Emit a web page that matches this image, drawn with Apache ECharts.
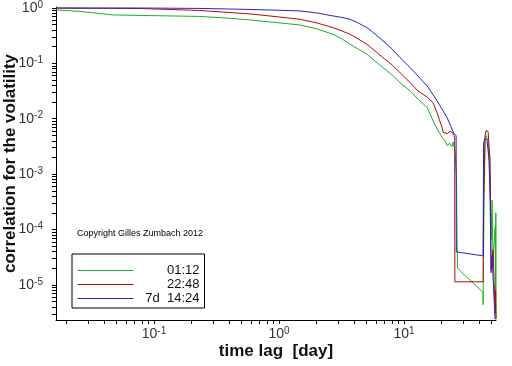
<!DOCTYPE html>
<html>
<head>
<meta charset="utf-8">
<script src="https://cdn.jsdelivr.net/npm/echarts@6/dist/echarts.min.js"></script>
<style>
html, body { margin: 0; padding: 0; background: #fff; }
#chart { width: 512px; height: 366px; }
</style>
</head>
<body>
<div id="chart"></div>
<script>
const seriesNames = ['01:12', '22:48', '7d  14:24']
const seriesColors = ['#1fb01f', '#b00a0a', '#2626c0']

// time lag [day] / correlation, one pair of arrays per series
const lagGreen = [0.0164, 0.0256, 0.047, 0.0773, 0.139, 0.233, 0.37, 0.586, 0.929, 1.47, 2.01, 2.70, 3.19, 3.70, 4.29, 5.05, 5.86, 6.79, 8.02, 9.29, 11.2, 12.9, 15.3, 17.1, 18.8,
  20.2, 21.3, 22.1, 23.3, 24.2, 24.7, 25.6, 26.3, 26.5, 26.8, 42.9, 42.9, 43.7, 44.5, 45.3, 47.0, 48.8, 49.7, 50.6, 51.5, 53.5, 54.0, 54.2, 54.4]
const corrGreen = [0.92, 0.865, 0.748, 0.732, 0.717, 0.702, 0.660, 0.608, 0.547, 0.493, 0.418, 0.335, 0.276, 0.221, 0.182, 0.146, 0.110, 0.0838, 0.0619, 0.0447, 0.0318, 0.0228, 0.0160, 0.0091, 0.0060,
  0.0046, 0.0040, 0.0033, 0.0036, 0.0031, 0.0038, 0.0027, 0.00078, 0.000097, 0.000020, 0.0000073, 0.0000044, 0.00034, 0.0040, 0.0050, 0.0040, 0.00078, 0.000066, 0.00034, 0.000028, 0.00011, 0.0000055, 0.0002, 0.0000025]

const lagRed = [0.0164, 0.0745, 0.233, 0.586, 0.929, 1.47, 2.01, 2.70, 3.19, 3.70, 4.29, 5.05, 5.86, 6.79, 8.02, 9.29, 11.2, 12.9, 15.3, 17.1, 18.4, 20.2, 20.5, 22.1, 23.3, 24.2, 25.1, 25.4, 25.5,
  42.9, 43.3, 44.5, 45.3, 47.0, 48.8, 49.7, 51.5, 52.5, 53.5, 54.0, 54.4]
const corrRed = [0.99, 0.98, 0.90, 0.78, 0.70, 0.625, 0.536, 0.441, 0.384, 0.335, 0.276, 0.221, 0.168, 0.127, 0.0938, 0.0679, 0.0447, 0.0318, 0.0247, 0.0193, 0.0127, 0.0068, 0.0057, 0.0054, 0.0059, 0.0057, 0.0050, 0.0045, 0.0000114,
  0.0000114, 0.00034, 0.0050, 0.0061, 0.0059, 0.00177, 0.0000166, 0.000043, 0.000012, 0.0000031, 0.000008, 0.0000024]

const lagBlue = [0.0164, 0.0929, 0.233, 0.586, 0.929, 1.47, 2.01, 2.70, 3.19, 3.70, 4.29, 5.05, 5.86, 6.79, 8.02, 9.29, 11.2, 12.9, 15.3, 16.7, 18.4, 20.1, 22.1, 24.2, 25.1, 26.1, 26.2,
  42.9, 43.3, 44.5, 46.1, 47.9, 48.8, 49.7, 50.6, 52.5, 53.5]
const corrBlue = [1.0, 0.995, 0.98, 0.94, 0.913, 0.883, 0.812, 0.717, 0.674, 0.625, 0.536, 0.441, 0.339, 0.254, 0.182, 0.127, 0.0838, 0.0593, 0.0391, 0.0292, 0.0210, 0.0150, 0.0105, 0.0065, 0.0054, 0.0050, 0.0000395,
  0.0000335, 0.00375, 0.0045, 0.0041, 0.00177, 0.00034, 0.0000188, 0.000035, 0.0000055, 0.0000024]

const xLabelValues = [0.1, 1, 10]
const yLabelValues = [1e-5, 1e-4, 1e-3, 1e-2, 1e-1, 1]
const copyrightText = 'Copyright Gilles Zumbach 2012'

const font = 'Liberation Sans, Arial, sans-serif'

// minor ticks at 1..9 x each decade inside [lo, hi]
const logTicks = (lo, hi) => {
  const out = []
  for (let e = -7; e <= 2; e++) {
    for (let m = 1; m <= 9; m++) {
      const v = m * Math.pow(10, e)
      if (v >= lo && v <= hi) out.push(+v.toPrecision(3))
    }
  }
  return out
}

const powLabel = v => {
  const e = Math.round(Math.log10(v))
  return '{b|10}{e|' + (e < 0 ? '-' + (-e) : e) + '}'
}
const labelRich = {
  b: { fontSize: 14, lineHeight: 16, color: '#333', fontFamily: font },
  e: { fontSize: 10, lineHeight: 10, color: '#333', fontFamily: font, verticalAlign: 'top' },
}

const xMin = 0.01644, xMax = 54.4
const yMin = 2.33e-6, yMax = 1.04

const zip = (xs, ys) => xs.map((x, i) => [x, ys[i]])
const lags = [lagGreen, lagRed, lagBlue]
const corrs = [corrGreen, corrRed, corrBlue]

const chart = echarts.init(document.getElementById('chart'), null, { renderer: 'canvas' })
chart.setOption({
  backgroundColor: '#fff',
  animation: false,
  title: {
    text: copyrightText, left: 77, top: 229, padding: 0,
    textStyle: { fontSize: 9, fontWeight: 'normal', color: '#000', fontFamily: font },
  },
  legend: {
    orient: 'vertical', left: 72, top: 254,
    padding: [10, 5, 3, 5], itemWidth: 56, itemHeight: 14, itemGap: 1,
    borderColor: '#000', borderWidth: 1,
    itemStyle: { opacity: 0 },
    lineStyle: { width: 1 },
    formatter: name => '{t|' + name + '}',
    textStyle: {
      fontSize: 13, color: '#111', fontFamily: font,
      rich: { t: { width: 61, align: 'right', fontSize: 13, fontFamily: font, color: '#111' } },
    },
    data: seriesNames,
  },
  grid: { left: 56, right: 16, top: 7, bottom: 46, containLabel: false, outerBoundsMode: 'none' },
  xAxis: {
    type: 'log', min: xMin, max: xMax,
    name: 'time lag  [day]', nameLocation: 'middle', nameGap: 23, nameMoveOverlap: false,
    nameTextStyle: { fontSize: 17, fontWeight: 'bold', color: '#111', fontFamily: font },
    axisLine: { lineStyle: { color: '#000', width: 1 } },
    axisTick: { length: 4, lineStyle: { color: '#000' }, customValues: logTicks(xMin, xMax) },
    axisLabel: { margin: 6, formatter: powLabel, rich: labelRich, customValues: xLabelValues },
    splitLine: { show: false },
  },
  yAxis: {
    type: 'log', min: yMin, max: yMax,
    name: 'correlation for the volatility', nameLocation: 'middle', nameGap: 37, nameMoveOverlap: false,
    nameTextStyle: { fontSize: 17, fontWeight: 'bold', color: '#111', fontFamily: font },
    axisLine: { show: true, lineStyle: { color: '#000', width: 1 } },
    axisTick: { show: true, length: 4, lineStyle: { color: '#000' }, customValues: logTicks(yMin, yMax) },
    axisLabel: { margin: 13, formatter: powLabel, rich: labelRich, customValues: yLabelValues },
    splitLine: { show: false },
  },
  series: seriesNames.map((name, i) => ({
    name, type: 'line', symbol: 'none', smooth: false,
    data: zip(lags[i], corrs[i]),
    lineStyle: { color: seriesColors[i], width: 1 },
    itemStyle: { color: seriesColors[i] },
  })),
})
</script>
</body>
</html>
